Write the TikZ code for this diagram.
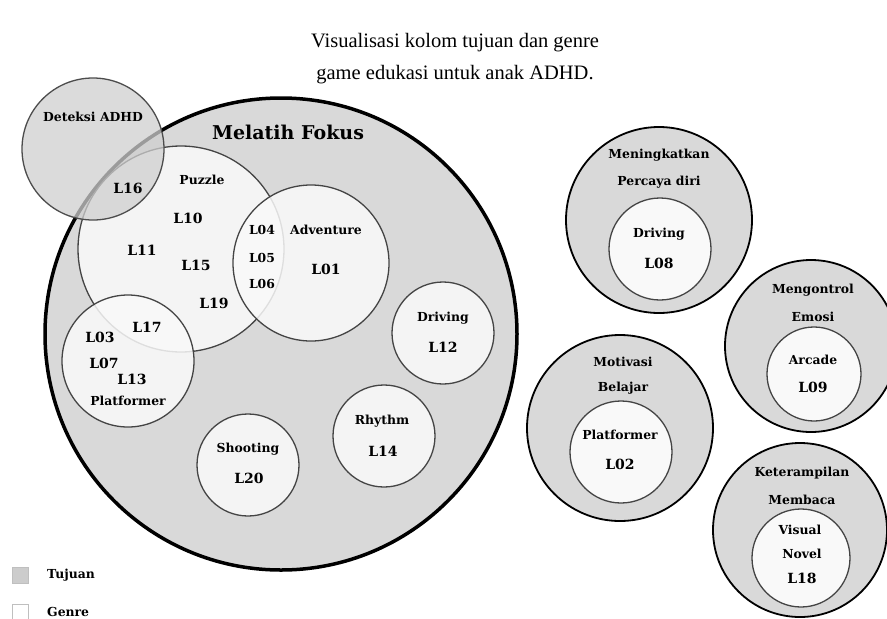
\documentclass[tikz,border=0pt]{standalone}
\usepackage{fontspec}
\setmainfont{Liberation Serif}
\newfontfamily\lblfont{DejaVu Serif}
\usetikzlibrary{positioning}

\definecolor{tujuangray}{HTML}{D9D9D9}
\definecolor{genrewhite}{HTML}{F9F9F9}
\definecolor{rimgray}{HTML}{444444}

\tikzset{
  tujuan/.style={circle, draw=black, line width=1.8pt, fill=tujuangray, inner sep=0pt},
  genre/.style={circle, draw=rimgray, line width=1.3pt, fill=genrewhite, fill opacity=0.85, inner sep=0pt},
  lbl/.style={font=\lblfont\bfseries\fontsize{12.4}{14}\selectfont, inner sep=1pt},
  code/.style={font=\lblfont\bfseries\fontsize{14}{16}\selectfont, inner sep=1pt},
  legendbox/.style={draw=black!25, line width=0.8pt, minimum size=16pt, inner sep=0pt}
}

\begin{document}
\begin{tikzpicture}[x=1pt, y=-1pt]
\useasboundingbox (0,0) rectangle (887,619);

% Title
\node[font=\fontsize{20.5}{24}\selectfont] (title1) at (455,43) {Visualisasi kolom tujuan dan genre};
\node[font=\fontsize{20.5}{24}\selectfont] (title2) at (455,75) {game edukasi untuk anak ADHD.};

% Melatih Fokus
\node[tujuan, line width=3.5pt, minimum size=472pt] (fokus) at (281,334) {};
\node[genre, minimum size=206pt] (puzzle) at (181,249) {};
\node[genre, minimum size=156pt] (adventure) at (311,263) {};
\node[genre, minimum size=132pt] (platformer) at (128,361) {};
\node[genre, minimum size=102pt] (driving) at (443,333) {};
\node[genre, minimum size=102pt] (rhythm) at (384,436) {};
\node[genre, minimum size=102pt] (shooting) at (248,465) {};

% Deteksi ADHD
\node[circle, draw=black!70, line width=1.3pt, fill=black!19, fill opacity=0.75, inner sep=0pt,
      minimum size=142pt] (adhd) at (93,149) {};

\node[lbl, font=\lblfont\bfseries\fontsize{19}{21}\selectfont] (lblFokus) at (288,132) {Melatih Fokus};
\node[lbl] (lblAdhd) at (93,117) {Deteksi ADHD};
\node[lbl] (lblPuzzle) at (202,180) {Puzzle};
\node[code] at (128,188) {L16};
\node[code] at (188,218) {L10};
\node[code] at (142,250) {L11};
\node[code] at (196,265) {L15};
\node[code] at (214,303) {L19};
\node[code] at (147,327) {L17};
\node[lbl] at (262,230) {L04};
\node[lbl] at (262,258) {L05};
\node[lbl] at (262,284) {L06};
\node[lbl] (lblAdventure) at (326,230) {Adventure};
\node[code] at (326,269) {L01};
\node[code] at (100,337) {L03};
\node[code] at (104,363) {L07};
\node[code] at (132,379) {L13};
\node[lbl] (lblPlatformer) at (128,401) {Platformer};
\node[lbl] (lblDriving) at (443,318) {Driving};
\node[code] at (443,347) {L12};
\node[lbl] (lblRhythm) at (382,421) {Rhythm};
\node[code] at (383,451) {L14};
\node[lbl] (lblShooting) at (248,449) {Shooting};
\node[code] at (249,478) {L20};

% Meningkatkan Percaya diri
\node[tujuan, minimum size=186pt] (percaya) at (659,220) {};
\node[genre, fill opacity=1, minimum size=102pt] (driving2) at (660,249) {};
\node[lbl] at (659,155) {Meningkatkan};
\node[lbl] at (659,182) {Percaya diri};
\node[lbl] at (659,234) {Driving};
\node[code] at (659,263) {L08};

% Mengontrol Emosi
\node[tujuan, minimum size=172pt] (emosi) at (811,346) {};
\node[genre, fill opacity=1, minimum size=94pt] (arcade) at (814,374) {};
\node[lbl] at (813,290) {Mengontrol};
\node[lbl] at (813,317) {Emosi};
\node[lbl] at (813,360) {Arcade};
\node[code] at (813,387) {L09};

% Motivasi Belajar
\node[tujuan, minimum size=186pt] (motivasi) at (620,428) {};
\node[genre, fill opacity=1, minimum size=102pt] (platformer2) at (621,452) {};
\node[lbl] at (623,362) {Motivasi};
\node[lbl] at (623,388) {Belajar};
\node[lbl] at (620,435) {Platformer};
\node[code] at (620,464) {L02};

% Keterampilan Membaca
\node[tujuan, minimum size=174pt] (membaca) at (800,530) {};
\node[genre, fill opacity=1, minimum size=98pt] (visual) at (801,558) {};
\node[lbl] at (802,473) {Keterampilan};
\node[lbl] at (802,500) {Membaca};
\node[lbl] at (800,530) {Visual};
\node[lbl] at (802,554) {Novel};
\node[code] at (802,578) {L18};

% Legend
\node[legendbox, fill=black!20] (keyTujuan) at (20,575) {};
\node[lbl, anchor=west] at (46,575) {Tujuan};
\node[legendbox, fill=white] (keyGenre) at (20,612) {};
\node[lbl, anchor=west] at (46,612) {Genre};
\end{tikzpicture}
\end{document}
